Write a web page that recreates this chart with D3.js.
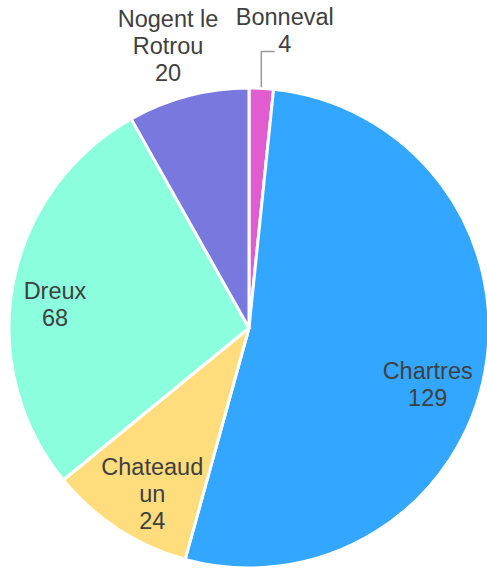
<!DOCTYPE html>
<html>
<head>
<meta charset="utf-8">
<script src="https://cdn.jsdelivr.net/npm/d3@7/dist/d3.min.js"></script>
<style>
	body { margin: 0; background: #fff; }
	svg { display: block; }
</style>
</head>
<body>
<script>
// data
var categories = ["Bonneval", "Chartres", "Chateaudun", "Dreux", "Nogent le Rotrou"];
var values = [4, 129, 24, 68, 20];
var labelLines = [["Bonneval", "4"], ["Chartres", "129"], ["Chateaud", "un", "24"], ["Dreux", "68"], ["Nogent le", "Rotrou", "20"]];
var colors = ["#e05ccf", "#33a6ff", "#ffdc7c", "#8bffdd", "#7878de"];

var width = 487, height = 570;
var cx = 249, cy = 328, radius = 240;
var lineHeight = 27;

var svg = d3.select("body").append("svg")
	.attr("width", width)
	.attr("height", height);

var data = categories.map(function (c, i) {
	return {name: c, value: values[i], lines: labelLines[i], color: colors[i]};
});

var pie = d3.pie()
	.sort(null)
	.value(function (d) { return d.value; });

var arc = d3.arc()
	.innerRadius(0)
	.outerRadius(radius);

var arcs = pie(data);

var g = svg.append("g")
	.attr("transform", "translate(" + cx + "," + cy + ")");

g.selectAll("path")
	.data(arcs)
	.enter()
	.append("path")
	.attr("d", arc)
	.attr("fill", function (d) { return d.data.color; })
	.attr("stroke", "#fff")
	.attr("stroke-width", 3)
	.attr("stroke-linejoin", "round");

// label placement: radius factor + nudge (px) per slice
var labelPlace = {
	"Bonneval": {r: 1.2, dx: 21, dy: -10.4},
	"Chartres": {r: 0.8, dx: -10, dy: 20.7},
	"Chateaudun": {r: 0.8, dx: 8, dy: 4.5},
	"Dreux": {r: 0.86, dx: 8.8, dy: 14.3},
	"Nogent le Rotrou": {r: 1.2, dx: 0, dy: 0}
};

function polar(angle, r) {
	return [Math.sin(angle) * r, -Math.cos(angle) * r];
}

arcs.forEach(function (d) {
	var mid = (d.startAngle + d.endAngle) / 2;
	var p = labelPlace[d.data.name];
	var pos = polar(mid, radius * p.r);
	var x = pos[0] + p.dx, y = pos[1] + p.dy;
	if (d.data.name == "Nogent le Rotrou") {
		// sits above the slice, left of the Bonneval label
		x = -81; y = -282.8;
	}
	if (d.data.name == "Bonneval") {
		// leader line
		var edge = polar(mid, radius);
		var elbowY = y + lineHeight * 0.8;
		g.append("path")
			.attr("d", "M" + edge[0] + "," + (edge[1] - 1) + "L" + edge[0] + "," + elbowY + "L" + (x - 10) + "," + elbowY)
			.attr("fill", "none")
			.attr("stroke", "#9a9a9a")
			.attr("stroke-width", 1.5);
	}
	var n = d.data.lines.length;
	var text = g.append("text")
		.attr("text-anchor", "middle")
		.attr("font-family", "Liberation Sans, Arial, sans-serif")
		.attr("font-size", "23.5px")
		.attr("fill", "#404040");
	d.data.lines.forEach(function (line, i) {
		text.append("tspan")
			.attr("x", x)
			.attr("y", y + (i - (n - 1) / 2) * lineHeight + 8.5)
			.text(line);
	});
});
</script>
</body>
</html>
